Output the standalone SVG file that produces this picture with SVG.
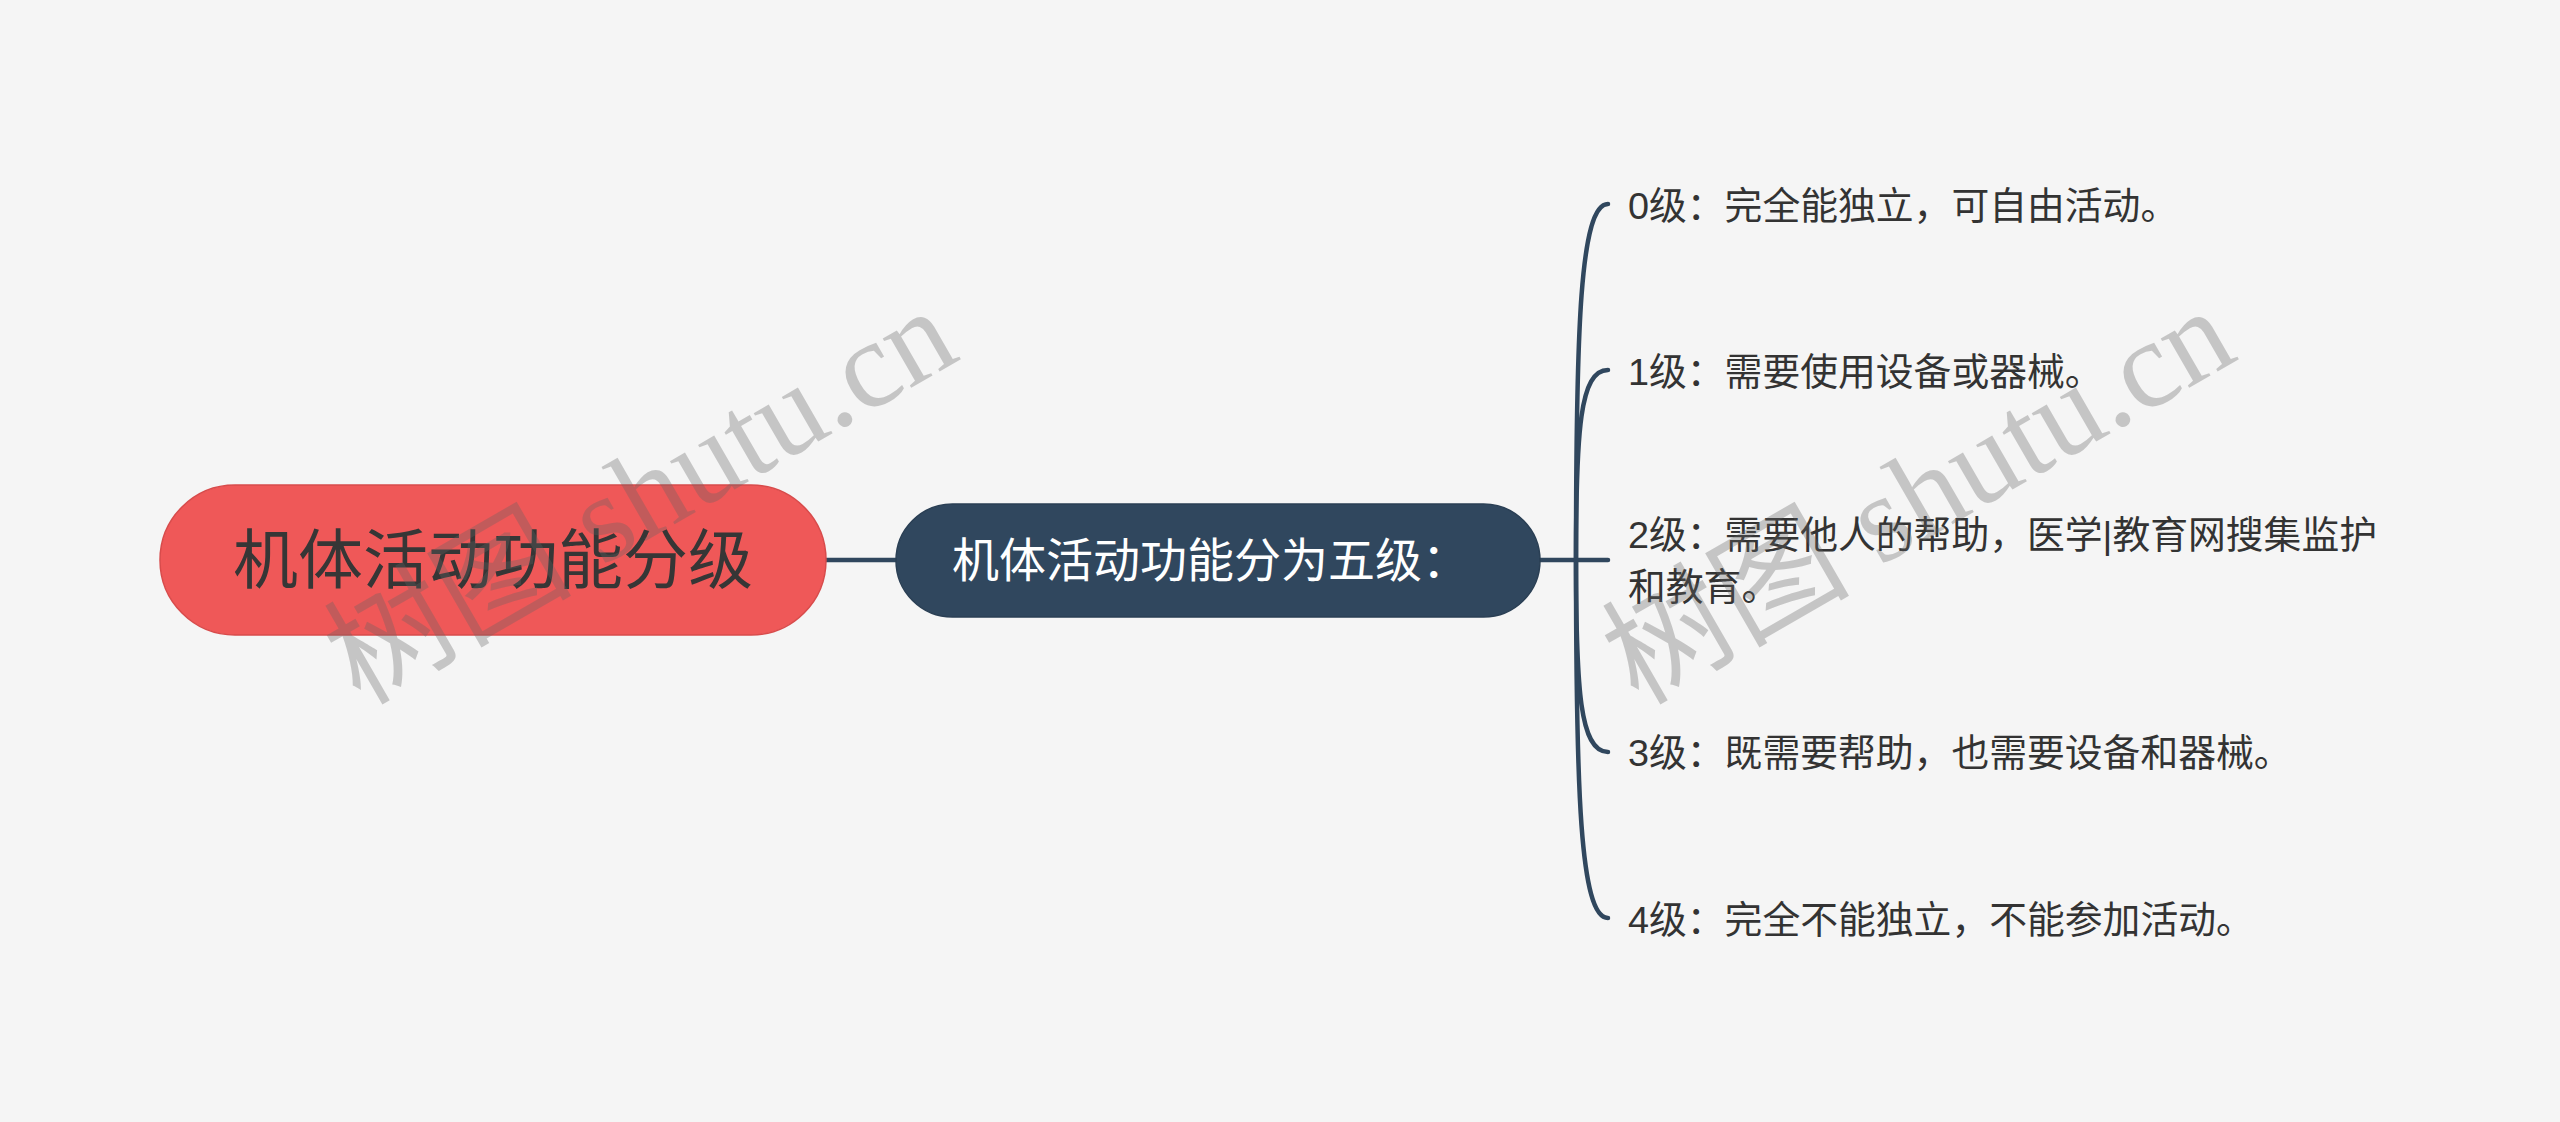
<svg xmlns="http://www.w3.org/2000/svg" width="2560" height="1122" viewBox="0 0 2560 1122">
<style>
.bg{fill:#F5F5F5}
.root-box{fill:#EF5858;stroke:#D84B4B;stroke-width:1.5}
.mid-box{fill:#30475E;stroke:#2A3F54;stroke-width:1.5}
.t{font-family:"Liberation Sans","Noto Sans CJK SC",sans-serif;dominant-baseline:central}
.root-t{font-size:65px;fill:#363636}
.mid-t{font-size:47px;fill:#FFFFFF}
.leaf-t{font-size:37.8px;fill:#333333}
.conn{fill:none;stroke:#30475E;stroke-width:4.5;stroke-linecap:round}
.wm{font-family:"Liberation Serif","Noto Sans CJK SC",serif;font-size:124px;fill:#646464;opacity:0.32}
</style>
<rect class="bg" x="0" y="0" width="2560" height="1122"/>
<g id="connectors">
<path class="conn" d="M826,560 H896"/>
<path class="conn" d="M1540,560 H1576"/>
<path class="conn" d="M1576,560 C1576,330 1580,204 1608,204"/>
<path class="conn" d="M1576,560 C1576,430 1580,370 1608,370"/>
<path class="conn" d="M1576,560 H1608"/>
<path class="conn" d="M1576,560 C1576,690 1580,752 1608,752"/>
<path class="conn" d="M1576,560 C1576,790 1580,918 1608,918"/>
</g>
<g id="root">
<rect class="root-box" x="160" y="485" width="666" height="150" rx="75" ry="75"/>
<text class="t root-t" x="493" y="560" text-anchor="middle">机体活动功能分级</text>
</g>
<g id="mid">
<rect class="mid-box" x="896" y="504" width="644" height="113" rx="56.5" ry="56.5"/>
<text class="t mid-t" x="952" y="560">机体活动功能分为五级：</text>
</g>
<g id="leaf0">
<text class="t leaf-t" x="1628" y="206">0级：完全能独立，可自由活动。</text>
</g>
<g id="leaf1">
<text class="t leaf-t" x="1628" y="372">1级：需要使用设备或器械。</text>
</g>
<g id="leaf2">
<text class="t leaf-t" x="1628" y="535">2级：需要他人的帮助，医学|教育网搜集监护</text>
<text class="t leaf-t" x="1628" y="587">和教育。</text>
</g>
<g id="leaf3">
<text class="t leaf-t" x="1628" y="753">3级：既需要帮助，也需要设备和器械。</text>
</g>
<g id="leaf4">
<text class="t leaf-t" x="1628" y="920">4级：完全不能独立，不能参加活动。</text>
</g>
<g id="watermark">
<text class="wm" x="360" y="706" transform="rotate(-30 360 706)">树图 shutu.cn</text>
<text class="wm" x="1638" y="706" transform="rotate(-30 1638 706)">树图 shutu.cn</text>
</g>
</svg>
